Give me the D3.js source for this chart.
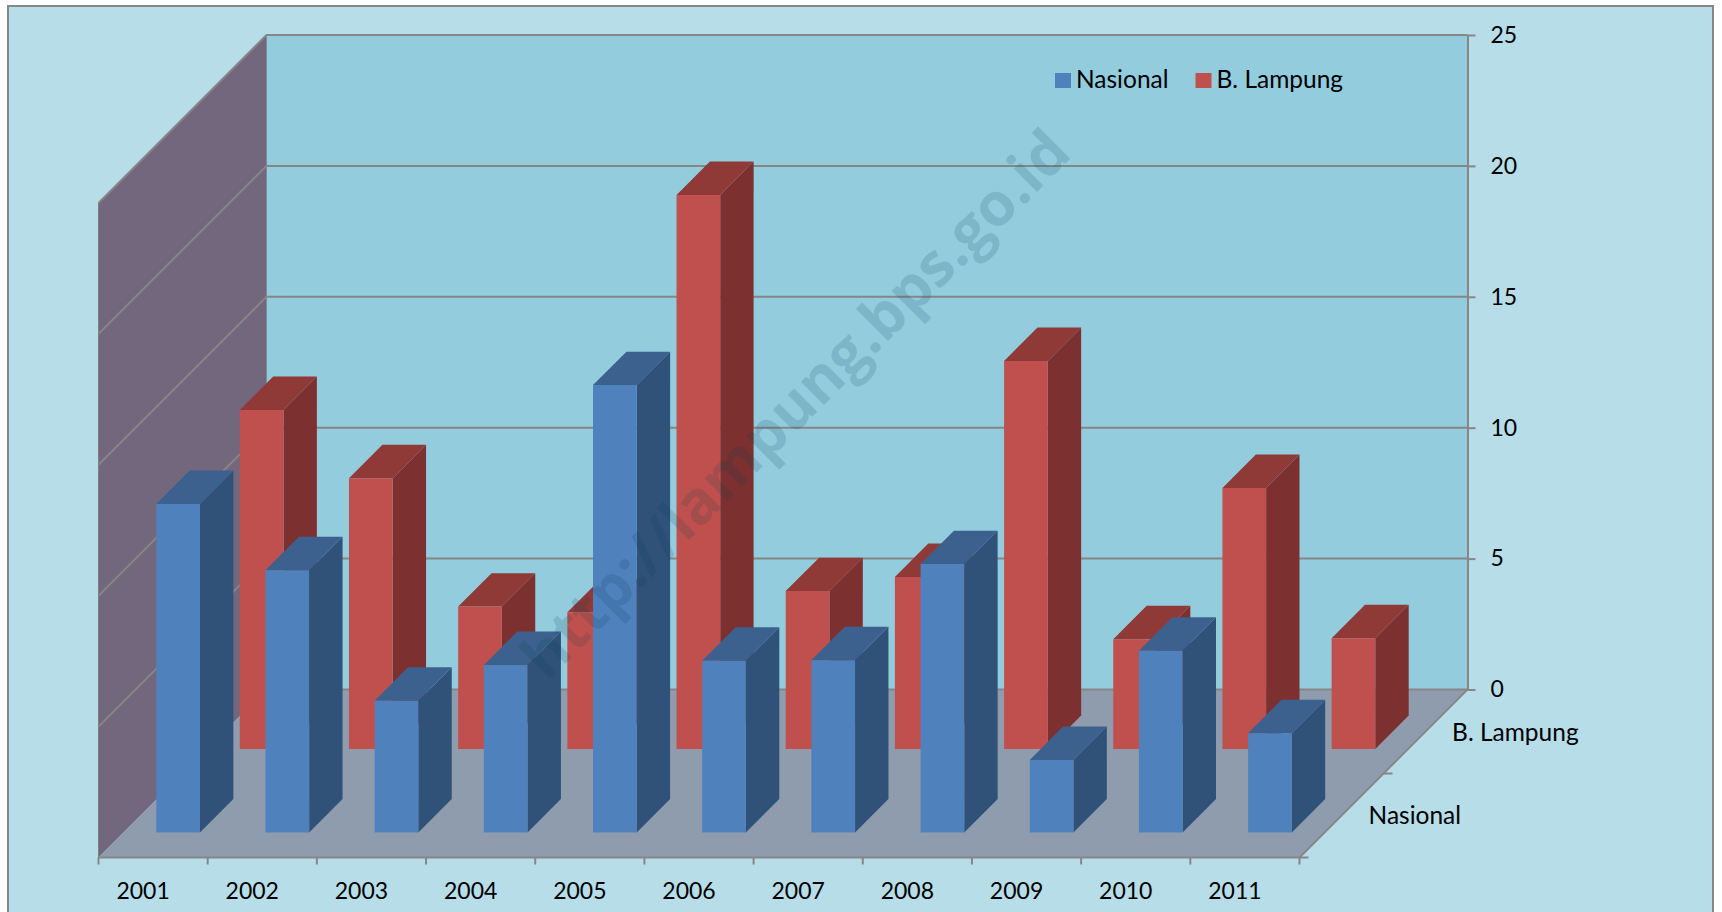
<!DOCTYPE html>
<html>
<head>
<meta charset="utf-8">
<script src="https://cdn.jsdelivr.net/npm/d3@7"></script>
<style>
  html, body { margin: 0; padding: 0; background: #fff; overflow: hidden; }
  svg { display: block; }
  text { font-family: Lato, "Open Sans", sans-serif; fill: #000; }
</style>
</head>
<body>
<div id="chart"></div>
<script>
const years = ["2001", "2002", "2003", "2004", "2005", "2006", "2007", "2008", "2009", "2010", "2011"];
const seriesNames = ["Nasional", "B. Lampung"];
const nasional = [12.55, 10.02, 5.03, 6.4, 17.09, 6.56, 6.58, 10.25, 2.77, 6.94, 3.79];
const lampung = [12.95, 10.34, 5.44, 5.22, 21.16, 6.03, 6.57, 14.82, 4.19, 9.97, 4.23];
const valueTicks = [0, 5, 10, 15, 20, 25];

const width = 1722;
const height = 912;
const digitSize = 23;
const labelSize = 24.5;
const gridColor = "#868686";

const palette = {
  "Nasional": { front: "#4f81bd", side: "#305279", top: "#3c618e" },
  "B. Lampung": { front: "#c0504d", side: "#7c3130", top: "#903a38" }
};

// plot box: front-left corner of the floor, value axis height, shear depth
const x0 = 98.5, x1 = 1299.5;
const floorY = 857.5;
const wallDepth = 168;

const xScale = d3.scaleBand().domain(years).range([x0, x1]).paddingInner(0.6).paddingOuter(0.3);
const depthScale = d3.scaleBand().domain(seriesNames).range([0, 167]).paddingInner(0.6).paddingOuter(0.3);
const yScale = d3.scaleLinear().domain([0, 25]).range([0, 654.5]);

// oblique projection: x along the years, d into the page, v up the value axis
const project = (x, d, v) => [x + d, floorY - d - yScale(v)];
const polygon = (pts) => pts.map((p) => p.join(",")).join(" ");

const svg = d3.select("#chart").append("svg")
  .attr("width", width)
  .attr("height", height);

// chart area with its frame, the bottom edge runs off the picture
svg.append("rect")
  .attr("x", 8).attr("y", 6)
  .attr("width", 1705).attr("height", 940)
  .attr("fill", "#b7dde8")
  .attr("stroke", gridColor).attr("stroke-width", 2);

const maxV = yScale.domain()[1];

// Back wall
svg.append("polygon")
  .attr("points", polygon([
    project(x0, wallDepth, 0), project(x1, wallDepth, 0),
    project(x1, wallDepth, maxV), project(x0, wallDepth, maxV)
  ]))
  .attr("fill", "#93ccdd");

// Left wall
svg.append("polygon")
  .attr("points", polygon([
    project(x0, 0, 0), project(x0, wallDepth, 0),
    project(x0, wallDepth, maxV), project(x0, 0, maxV)
  ]))
  .attr("fill", "#72677d");

// Floor
svg.append("polygon")
  .attr("points", polygon([
    project(x0, 0, 0), project(x1, 0, 0),
    project(x1, wallDepth, 0), project(x0, wallDepth, 0)
  ]))
  .attr("fill", "#8f9cae");

// Gridlines on both walls
valueTicks.forEach((v) => {
  const a = project(x0, 0, v), b = project(x0, wallDepth, v), c = project(x1, wallDepth, v);
  svg.append("polyline")
    .attr("points", polygon(v === 0 ? [b, c] : [a, b, c]))
    .attr("fill", "none")
    .attr("stroke", gridColor)
    .attr("stroke-width", 2);
});
svg.append("line")
  .attr("x1", project(x0, wallDepth, 0)[0]).attr("x2", project(x0, wallDepth, maxV)[0])
  .attr("y1", project(x0, wallDepth, 0)[1]).attr("y2", project(x0, wallDepth, maxV)[1])
  .attr("stroke", "#7f8a96").attr("stroke-width", 1);
svg.append("line")
  .attr("x1", project(x0, 0, 0)[0]).attr("x2", project(x0, 0, maxV)[0])
  .attr("y1", project(x0, 0, 0)[1]).attr("y2", project(x0, 0, maxV)[1])
  .attr("stroke", "#7f7f86").attr("stroke-width", 1);

// Bars, back row first
const drawRow = (name, values) => {
  const bw = xScale.bandwidth();
  const d0 = depthScale(name);
  const d1 = d0 + depthScale.bandwidth();
  const colors = palette[name];
  const rows = years.map((year, i) => ({ year, value: values[i] }));
  const g = svg.append("g").attr("class", "row");

  const bar = g.selectAll("g.bar").data(rows).join("g").attr("class", "bar");

  bar.append("polygon")
    .attr("points", (d) => {
      const xa = xScale(d.year) + bw;
      return polygon([project(xa, d0, 0), project(xa, d1, 0), project(xa, d1, d.value), project(xa, d0, d.value)]);
    })
    .attr("fill", colors.side);

  bar.append("polygon")
    .attr("points", (d) => {
      const xa = xScale(d.year);
      return polygon([project(xa, d0, d.value), project(xa + bw, d0, d.value), project(xa + bw, d1, d.value), project(xa, d1, d.value)]);
    })
    .attr("fill", colors.top);

  bar.append("polygon")
    .attr("points", (d) => {
      const xa = xScale(d.year);
      return polygon([project(xa, d0, 0), project(xa + bw, d0, 0), project(xa + bw, d0, d.value), project(xa, d0, d.value)]);
    })
    .attr("fill", colors.front);
};
drawRow("B. Lampung", lampung);
drawRow("Nasional", nasional);

// Value axis on the right of the back wall
const backRight = project(x1, wallDepth, 0);
const valueAxisScale = d3.scaleLinear().domain(yScale.domain()).range([backRight[1], backRight[1] - yScale(maxV)]);
const valueAxis = svg.append("g")
  .attr("transform", `translate(${backRight[0]},0)`)
  .call(d3.axisRight(valueAxisScale).tickValues(valueTicks).tickSize(8).tickPadding(15).tickSizeOuter(0));
valueAxis.selectAll("path, line").attr("stroke", gridColor).attr("stroke-width", 2);
valueAxis.selectAll("text").attr("font-size", digitSize).style("font-family", "Lato");

// Year axis along the front of the floor: labels from the band scale, ticks at the band edges
const yearAxis = svg.append("g")
  .attr("transform", `translate(-10,${floorY})`)
  .call(d3.axisBottom(xScale).tickSize(0).tickPadding(25));
yearAxis.select(".domain").remove();
yearAxis.selectAll("text").attr("font-size", digitSize).style("font-family", "Lato");

const edgeTicks = d3.scaleLinear().domain([0, years.length]).range([x0, x1]);
svg.append("line")
  .attr("x1", x0).attr("x2", x1).attr("y1", floorY).attr("y2", floorY)
  .attr("stroke", gridColor).attr("stroke-width", 2);
svg.append("g").selectAll("line").data(d3.range(years.length + 1)).join("line")
  .attr("x1", (i) => edgeTicks(i)).attr("x2", (i) => edgeTicks(i))
  .attr("y1", floorY).attr("y2", floorY + 7)
  .attr("stroke", gridColor).attr("stroke-width", 2);

// Depth axis along the right edge of the floor
const depthA = project(x1, 0, 0), depthB = project(x1, wallDepth, 0);
svg.append("line")
  .attr("x1", depthA[0]).attr("y1", depthA[1]).attr("x2", depthB[0]).attr("y2", depthB[1])
  .attr("stroke", gridColor).attr("stroke-width", 2);
[0, wallDepth / 2].forEach((d) => {
  const p = project(x1, d, 0);
  svg.append("line")
    .attr("x1", p[0]).attr("y1", p[1]).attr("x2", p[0] + 9).attr("y2", p[1])
    .attr("stroke", gridColor).attr("stroke-width", 2);
});
seriesNames.forEach((name) => {
  const p = project(x1, depthScale(name), 0);
  svg.append("text")
    .attr("x", p[0] + 44)
    .attr("y", p[1] - 8)
    .attr("font-size", labelSize)
    .text(name);
});

// Legend
const legendX = [1055, 1195.5];
const legend = svg.append("g").selectAll("g").data(seriesNames).join("g")
  .attr("transform", (d, i) => `translate(${legendX[i]},73)`);
legend.append("rect")
  .attr("width", 16).attr("height", 15)
  .attr("fill", (d) => palette[d].front);
legend.append("text")
  .attr("x", 21).attr("y", 15)
  .attr("font-size", labelSize)
  .text((d) => d);

// Watermark sits above the bars
svg.append("text")
  .attr("transform", "translate(547,682) rotate(-45)")
  .attr("font-size", 60)
  .attr("font-weight", 700)
  .style("font-family", "'Open Sans'")
  .style("fill", "rgb(0,60,80)")
  .style("fill-opacity", 0.15)
  .text("http://lampung.bps.go.id");
</script>
</body>
</html>
